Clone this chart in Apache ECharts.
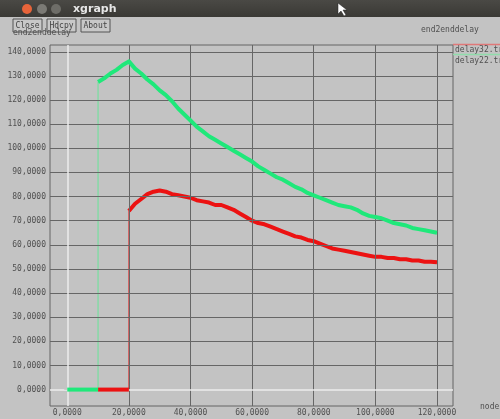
<!DOCTYPE html>
<html>
<head>
<meta charset="utf-8">
<script src="https://cdn.jsdelivr.net/npm/echarts@6.0.0/dist/echarts.min.js"></script>
<style>
  html, body { margin: 0; padding: 0; background: #c3c3c3; }
  #main { width: 500px; height: 419px; }
</style>
</head>
<body>
<div id="main"></div>
<script>
// ticks
const xTicks = [0, 20, 40, 60, 80, 100, 120]
const yTicks = [0, 10, 20, 30, 40, 50, 60, 70, 80, 90, 100, 110, 120, 130, 140]

// delay22 (green): flat at 0 until node 10, then the curve
const delay22Zero = [0, 10]
const delay22Nodes = [10, 12, 14, 16, 18, 20, 22, 24, 26, 28, 30, 32, 34, 36, 38, 40, 42, 44, 46, 48, 50,
  52, 54, 56, 58, 60, 62, 64, 66, 68, 70, 72, 74, 76, 78, 80, 82, 84, 86, 88, 90, 92, 94, 96, 98, 100,
  102, 104, 106, 108, 110, 112, 114, 116, 118, 120]
const delay22Values = [127.5, 129, 131, 132.5, 134.5, 136, 133, 131, 128.5, 126.5, 124, 122, 119.5, 116.5,
  114, 111.5, 109, 107, 105, 103.5, 102, 100.5, 99, 97.5, 96, 94.5, 92.5, 91, 89.5, 88, 87, 85.5, 84, 83,
  81.5, 80.5, 79.5, 78.5, 77.5, 76.5, 76, 75.5, 74.5, 73, 72, 71.5, 71, 70, 69, 68.5, 68, 67, 66.5, 66, 65.5, 65]

// delay32 (red): flat at 0 from node 10 to 20, then the curve
const delay32Zero = [10, 20]
const delay32Nodes = [20, 22, 24, 26, 28, 30, 32, 34, 36, 38, 40, 42, 44, 46, 48, 50, 52, 54, 56, 58, 60,
  62, 64, 66, 68, 70, 72, 74, 76, 78, 80, 82, 84, 86, 88, 90, 92, 94, 96, 98, 100, 102, 104, 106, 108,
  110, 112, 114, 116, 118, 120]
const delay32Values = [74, 77, 79, 81, 82, 82.5, 82, 81, 80.5, 80, 79.5, 78.5, 78, 77.5, 76.5, 76.5, 75.5,
  74.5, 73, 71.5, 70, 69, 68.5, 67.5, 66.5, 65.5, 64.5, 63.5, 63, 62, 61.5, 60.5, 59.5, 58.5, 58, 57.5,
  57, 56.5, 56, 55.5, 55, 55, 54.5, 54.5, 54, 54, 53.5, 53.5, 53, 53, 52.8]

const GREEN = '#1fe87a'
const RED = '#ec1212'
const FONT = 'DejaVu Sans Mono'

function pairs(xs, ys) {
  return xs.map((x, i) => [x, ys[i]])
}

function zeroLine(seg) {
  return seg.map((x) => [x, 0])
}

// thin vertical jump from 0 up to the first point of the curve
function jump(xs, ys) {
  return [[xs[0], 0], [xs[0], ys[0]]]
}

const gridLines = xTicks.filter((v) => v !== 0).map((v) => ({ xAxis: v }))
  .concat(yTicks.filter((v) => v !== 0).map((v) => ({ yAxis: v })))

function lineSeries(name, data, color, width, z) {
  return {
    name,
    type: 'line',
    data,
    symbol: 'none',
    z,
    lineStyle: { color, width, cap: 'butt', join: 'round' },
    silent: true,
  }
}

const chart = echarts.init(document.getElementById('main'))
chart.setOption({
  backgroundColor: '#c3c3c3',
  animation: false,
  textStyle: { fontFamily: FONT },
  grid: {
    left: 50, top: 45, right: 47, bottom: 13,
    show: true, borderColor: '#656565', borderWidth: 1,
  },
  xAxis: {
    type: 'value',
    min: -5.6, max: 125.2,
    splitLine: { show: false },
    axisLine: { show: false },
    axisTick: { show: false },
    axisLabel: {
      customValues: xTicks,
      margin: 3,
      fontSize: 8,
      fontFamily: FONT,
      color: '#505050',
      formatter: (v) => v + ',0000',
    },
  },
  yAxis: {
    type: 'value',
    min: -6.8, max: 142.8,
    splitLine: { show: false },
    axisLine: { show: false },
    axisTick: { show: true, customValues: yTicks, length: 3, lineStyle: { color: '#656565' } },
    axisLabel: {
      customValues: yTicks,
      margin: 4,
      fontSize: 8,
      fontFamily: FONT,
      color: '#505050',
      formatter: (v) => v + ',0000',
    },
  },
  series: [
    {
      name: 'grid',
      type: 'line',
      data: [],
      silent: true,
      z: 1,
      markLine: {
        silent: true,
        symbol: 'none',
        label: { show: false },
        lineStyle: { color: '#666666', width: 1, type: 'solid' },
        data: gridLines,
      },
    },
    {
      name: 'zero',
      type: 'line',
      data: [],
      silent: true,
      z: 1,
      markLine: {
        silent: true,
        symbol: 'none',
        label: { show: false },
        lineStyle: { color: '#ececec', width: 1.5, type: 'solid' },
        data: [{ xAxis: 0 }, { yAxis: 0 }],
      },
    },
    lineSeries('delay32 jump', jump(delay32Nodes, delay32Values), '#d25a5a', 1.5, 3),
    lineSeries('delay32 zero', zeroLine(delay32Zero), RED, 4, 6),
    lineSeries('delay32', pairs(delay32Nodes, delay32Values), RED, 4, 4),
    lineSeries('delay22 jump', jump(delay22Nodes, delay22Values), '#86d9a6', 1.5, 3),
    lineSeries('delay22 zero', zeroLine(delay22Zero), GREEN, 4, 6),
    lineSeries('delay22', pairs(delay22Nodes, delay22Values), GREEN, 4, 5),
  ],
  graphic: [
    // window title bar
    {
      type: 'rect', left: 0, top: 0, z: 10,
      shape: { width: 500, height: 17 },
      style: {
        fill: new echarts.graphic.LinearGradient(0, 0, 0, 1, [
          { offset: 0, color: '#4a4945' },
          { offset: 1, color: '#3a3935' },
        ]),
      },
    },
    { type: 'circle', x: 27, y: 9, z: 11, shape: { r: 5 }, style: { fill: '#e8643a' } },
    { type: 'circle', x: 42, y: 9, z: 11, shape: { r: 5 }, style: { fill: '#7b7a75' } },
    { type: 'circle', x: 56, y: 9, z: 11, shape: { r: 5 }, style: { fill: '#6e6d68' } },
    {
      type: 'text', x: 73, y: 9, z: 11,
      style: { text: 'xgraph', fill: '#e6e6e6', font: 'bold 11px "DejaVu Sans"', textVerticalAlign: 'middle' },
    },
    {
      type: 'polygon', z: 11,
      shape: { points: [[338, 3], [338, 14], [341, 11], [344, 16], [346, 15], [343, 10], [347, 10]] },
      style: { fill: '#ffffff', stroke: '#222', lineWidth: 0.5 },
    },
    // title, partly hidden under the buttons
    {
      type: 'text', x: 13, y: 29, z: 10,
      style: { text: 'end2enddelay', fill: '#505050', font: '8px "DejaVu Sans Mono"' },
    },
    {
      type: 'text', x: 421, y: 30, z: 10,
      style: { text: 'end2enddelay', fill: '#505050', font: '8px "DejaVu Sans Mono"', textVerticalAlign: 'middle' },
    },
    // buttons
    ...[['Close', 13], ['Hdcpy', 47], ['About', 81]].map(([label, x]) => ({
      type: 'group', x, y: 19, z: 12,
      children: [
        { type: 'rect', shape: { width: 29, height: 13 }, style: { fill: '#c8c8c8', stroke: '#555', lineWidth: 1 } },
        {
          type: 'text', x: 14.5, y: 7,
          style: { text: label, fill: '#444', font: '8px "DejaVu Sans Mono"', textAlign: 'center', textVerticalAlign: 'middle' },
        },
      ],
    })),
    // legend
    { type: 'line', z: 10, shape: { x1: 453, y1: 44.5, x2: 500, y2: 44.5 }, style: { stroke: '#e07878', lineWidth: 1.5 } },
    {
      type: 'text', x: 455, y: 50, z: 10,
      style: { text: 'delay32.tr', fill: '#505050', font: '8px "DejaVu Sans Mono"', textVerticalAlign: 'middle' },
    },
    { type: 'line', z: 10, shape: { x1: 453, y1: 54.5, x2: 500, y2: 54.5 }, style: { stroke: '#8fdcaa', lineWidth: 1.5 } },
    {
      type: 'text', x: 455, y: 61, z: 10,
      style: { text: 'delay22.tr', fill: '#505050', font: '8px "DejaVu Sans Mono"', textVerticalAlign: 'middle' },
    },
    // x axis name
    {
      type: 'text', x: 480, y: 407, z: 10,
      style: { text: 'node', fill: '#505050', font: '8px "DejaVu Sans Mono"', textVerticalAlign: 'middle' },
    },
  ],
})
</script>
</body>
</html>
